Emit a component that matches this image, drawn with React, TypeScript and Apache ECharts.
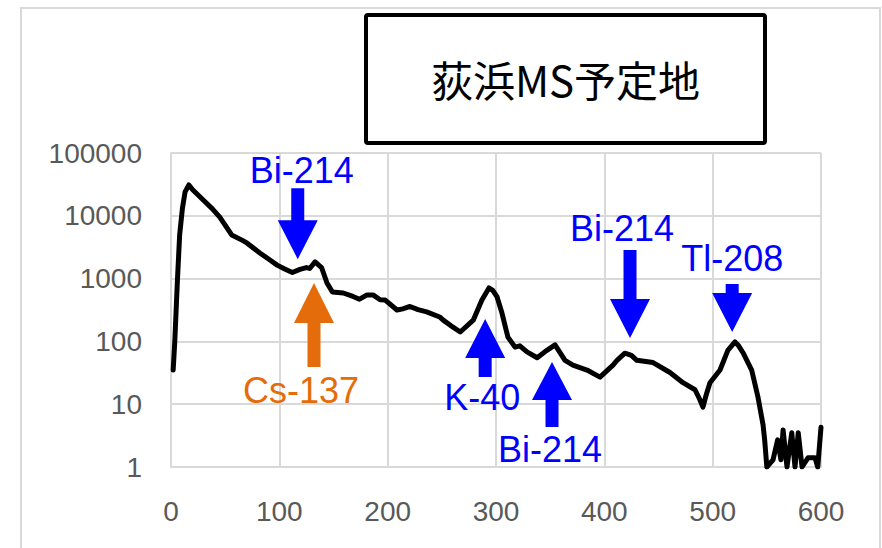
import React, { useEffect, useRef } from "react";
import * as echarts from "echarts";

// Spectrum (channel / energy vs counts)
const channels = [
  2, 3.5, 5, 6, 8, 10.5, 13, 16.5, 20, 29.5, 38, 45, 56, 65.5, 70, 82, 91, 98, 105, 112, 119, 125, 128,
  133, 139, 144, 149, 159, 168, 174, 181, 186.5, 193, 197.5, 208.6, 214, 220.6, 228, 236, 248, 251, 260,
  267, 279, 287, 293.5, 297, 301, 305.5, 311, 317.6, 322, 328.6, 338, 347, 354.5, 363.7, 371, 384, 396,
  408, 411.7, 419, 425, 430, 445, 460.6, 472.6, 483.7, 488, 491, 494, 497.5, 506.8, 514, 520.6, 524, 528,
  536, 541.8, 546.5, 548, 550, 555.7, 560, 563, 565, 568.6, 573, 576, 579, 582.5, 588, 594.5, 597, 600,
];
const counts = [
  35, 100, 400, 1000, 5000, 13000, 24000, 31000, 26000, 18000, 13000, 9500, 4950, 4100, 3700, 2560, 2000,
  1640, 1420, 1250, 1400, 1500, 1450, 1850, 1500, 850, 610, 590, 520, 470, 550, 550, 460, 457, 316, 330,
  360, 320, 295, 245, 220, 170, 141, 218, 457, 710, 650, 510, 283, 117, 81, 85, 68, 55, 72, 88, 50, 42,
  35, 27, 42, 50, 65, 60, 50, 46, 32, 22, 17, 12, 9, 14, 22, 35, 72, 98, 85, 66, 35, 13, 4.7, 2.7, 1, 1.3,
  2.7, 1.3, 3.9, 1, 3.5, 1, 3.5, 1, 1.4, 1.4, 1, 4.3,
];

const xTicks = [0, 100, 200, 300, 400, 500, 600];
const yTicks = [1, 10, 100, 1000, 10000, 100000];

const chartTitle = "荻浜MS予定地";

// Annotations: nuclide label, arrow tip in data coordinates, direction
const annoLabels = ["Bi-214", "Cs-137", "K-40", "Bi-214", "Bi-214", "Tl-208"];
const annoX = [117, 132, 290, 351.7, 423.7, 518];
const annoY = [2040, 850, 227, 47, 113, 141];
const annoDir = ["down", "up", "up", "up", "down", "down"];

// Layout / style of annotations (pixels)
const annoColor = ["#0000FF", "#E46C0A", "#0000FF", "#0000FF", "#0000FF", "#0000FF"];
const annoLen = [71, 84, 58, 65, 88, 48];
const annoHead = [39, 40, 39, 38, 39, 39];
const annoLabelDx = [4, -13, -3, -2, -8, 0];
const annoLabelDy = [-89, 107, 78, 88, -110, -74];

function arrowPoints(tx: number, ty: number, dir: string, L: number, H: number, W: number, S: number) {
  const s = dir === "down" ? -1 : 1;
  return [
    [tx - S / 2, ty + s * L],
    [tx + S / 2, ty + s * L],
    [tx + S / 2, ty + s * H],
    [tx + W / 2, ty + s * H],
    [tx, ty],
    [tx - W / 2, ty + s * H],
    [tx - S / 2, ty + s * H],
  ];
}

export default function App() {
  const ref = useRef<HTMLDivElement>(null);
  useEffect(() => {
    if (!ref.current) return;
    const chart = echarts.init(ref.current, null, { renderer: "svg" });
    const data = channels.map((c, i) => [c, counts[i]]);
    const labelFont = "'Liberation Sans', Arial, sans-serif";
    chart.setOption({
      animation: false,
      backgroundColor: "#ffffff",
      grid: { left: 171, top: 153, right: 61, bottom: 81, containLabel: false },
      xAxis: {
        type: "value",
        min: xTicks[0],
        max: xTicks[xTicks.length - 1],
        interval: 100,
        axisLine: { show: true, lineStyle: { color: "#d9d9d9", width: 2 } },
        axisTick: { show: false },
        splitLine: { show: true, lineStyle: { color: "#d9d9d9", width: 2 } },
        axisLabel: {
          color: "#595959",
          fontSize: 28,
          fontFamily: labelFont,
          margin: 30,
          formatter: (v: number) => String(Math.round(v)),
        },
      },
      yAxis: {
        type: "log",
        logBase: 10,
        min: yTicks[0],
        max: yTicks[yTicks.length - 1],
        axisLine: { show: true, lineStyle: { color: "#d9d9d9", width: 2 } },
        axisTick: { show: false },
        splitLine: { show: true, lineStyle: { color: "#d9d9d9", width: 2 } },
        minorSplitLine: { show: false },
        axisLabel: {
          color: "#595959",
          fontSize: 28,
          fontFamily: labelFont,
          margin: 29,
          formatter: (v: number) => String(Math.round(v)),
        },
      },
      series: [
        {
          type: "line",
          data,
          showSymbol: false,
          smooth: false,
          lineStyle: { color: "#000000", width: 5, join: "round", cap: "round" },
          z: 3,
        },
      ],
    });

    const graphics: any[] = [
      {
        type: "rect",
        shape: { x: 21, y: 8, width: 859, height: 560 },
        style: { fill: "none", stroke: "#d9d9d9", lineWidth: 2 },
        z: -1,
        silent: true,
      },
      {
        type: "rect",
        shape: { x: 366, y: 15, width: 399, height: 128, r: 2 },
        style: { fill: "#ffffff", stroke: "#000000", lineWidth: 4 },
        z: 10,
      },
      {
        type: "text",
        x: 565.5,
        y: 78,
        style: {
          text: chartTitle,
          fill: "#000000",
          fontSize: 42,
          fontFamily: "'Noto Sans CJK JP', sans-serif",
          align: "center",
          verticalAlign: "middle",
        },
        z: 11,
      },
    ];
    annoLabels.forEach((lab, i) => {
      const p = chart.convertToPixel({ gridIndex: 0 }, [annoX[i], annoY[i]]) as number[];
      graphics.push({
        type: "polygon",
        shape: { points: arrowPoints(p[0], p[1], annoDir[i], annoLen[i], annoHead[i], 40, 13) },
        style: { fill: annoColor[i] },
        z: 20,
      });
      graphics.push({
        type: "text",
        x: p[0] + annoLabelDx[i],
        y: p[1] + annoLabelDy[i],
        style: {
          text: lab,
          fill: annoColor[i],
          fontSize: 36,
          fontFamily: labelFont,
          align: "center",
          verticalAlign: "middle",
        },
        z: 20,
      });
    });
    chart.setOption({ graphic: graphics });
    return () => chart.dispose();
  }, []);
  return (
    <div
      ref={ref}
      style={{ position: "fixed", left: 0, top: 0, width: 882, height: 548, background: "#fff" }}
    />
  );
}
